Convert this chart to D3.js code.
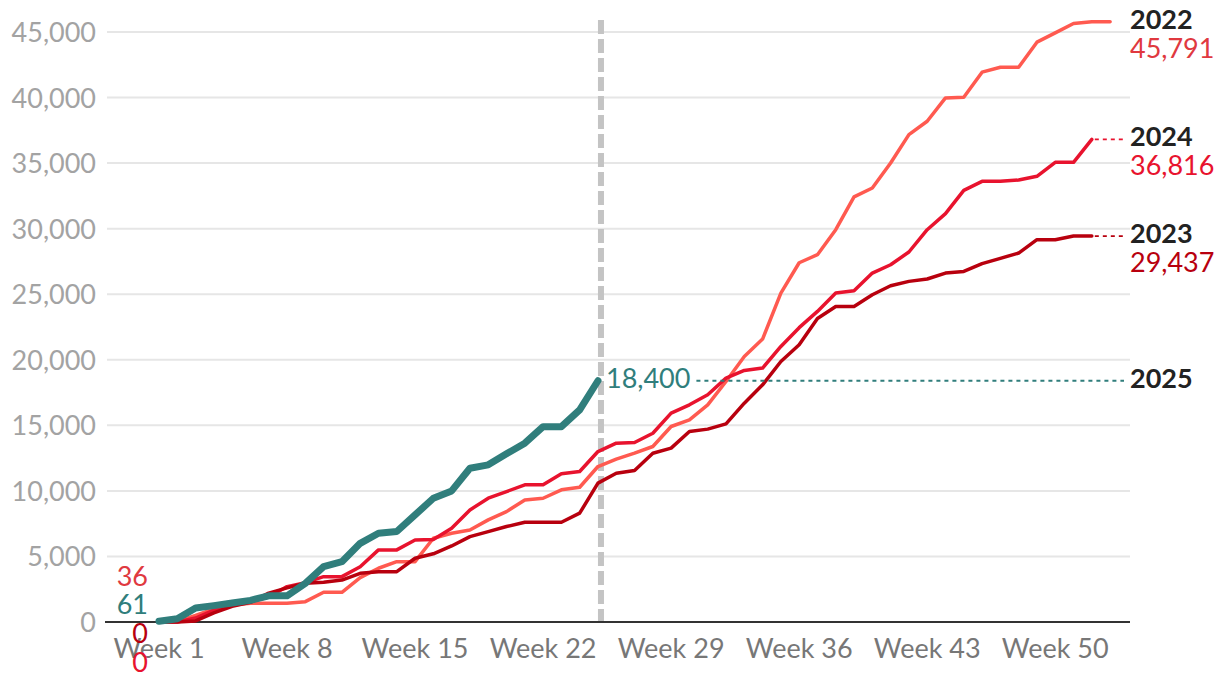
<!DOCTYPE html>
<html><head><meta charset="utf-8">
<script src="https://cdn.jsdelivr.net/npm/d3@7"></script>
<style>
html,body{margin:0;padding:0;background:#fff;}
svg{display:block;font-family:Lato,"Open Sans",sans-serif;}
</style></head>
<body><svg id="c" width="1220" height="674"></svg>
<script>
const yTicks = [0,5000,10000,15000,20000,25000,30000,35000,40000,45000];
const xTickWeeks = [1,8,15,22,29,36,43,50];
const xTickLabels = ["Week 1","Week 8","Week 15","Week 22","Week 29","Week 36","Week 43","Week 50"];

const v2022 = [36,50,500,1000,1300,1425,1425,1425,1550,2265,2265,3385,4100,4600,4600,6390,6770,7020,7790,8420,9310,9440,10080,10280,11860,12420,12875,13385,14910,15420,16565,18345,20250,21580,25090,27400,28015,29920,32420,33100,35010,37175,38190,39975,40025,41935,42315,42315,44225,44935,45650,45780,45791];
const v2023 = [0,0,80,690,1200,1500,2200,2600,2950,3030,3200,3715,3840,3840,4860,5200,5800,6515,6895,7280,7610,7610,7610,8300,10590,11350,11550,12875,13260,14530,14710,15115,16690,18090,19870,21145,23150,24070,24070,24960,25650,25980,26160,26615,26740,27330,27735,28140,29160,29160,29437,29437];
const v2024 = [0,0,300,900,1300,1550,1900,2700,3000,3460,3460,4220,5500,5500,6260,6300,7150,8550,9440,9950,10460,10460,11300,11475,13000,13640,13690,14400,15930,16565,17330,18600,19185,19365,21020,22450,23690,25090,25270,26615,27250,28220,29920,31145,32925,33610,33610,33715,33995,35060,35060,36816];
const v2025 = [61,250,1070,1250,1450,1650,2000,2000,2950,4220,4600,6000,6770,6900,8170,9440,10000,11730,11985,12824,13640,14900,14900,16180,18400];

const years = ["2022","2023","2024","2025"];
const seriesValues = [v2022, v2023, v2024, v2025];
const lineColors = {"2022":"#ff5a50","2023":"#b8000e","2024":"#e8132e","2025":"#307e7c"};
const textColors = {"2022":"#e0393f","2023":"#b8000e","2024":"#e8132e","2025":"#307e7c"};
const currentWeek = 25;

const svg = d3.select("#c");
const x = d3.scaleLinear().domain([1,53]).range([159,1110.1]);
const y = d3.scaleLinear().domain([0,45000]).range([622,32]);
const gridLeft = 107, gridRight = 1130;
const fs = 27;

// gridlines
svg.append("g").selectAll("line").data(yTicks.filter(d=>d>0)).join("line")
  .attr("x1",gridLeft).attr("x2",gridRight)
  .attr("y1",d=>y(d)).attr("y2",d=>y(d))
  .attr("stroke","#e6e6e6").attr("stroke-width",2);

// y tick labels
svg.append("g").selectAll("text").data(yTicks).join("text")
  .attr("x",96).attr("y",d=>y(d)+10)
  .attr("text-anchor","end").attr("font-size",fs).attr("fill","#a3a3a3")
  .text(d=>d3.format(",")(d));

// x tick labels
svg.append("g").selectAll("text").data(xTickWeeks).join("text")
  .attr("x",d=>x(d)).attr("y",658)
  .attr("text-anchor","middle").attr("font-size",fs).attr("fill","#777")
  .text((d,i)=>xTickLabels[i]);

// vertical dashed current week line
svg.append("line").attr("x1",x(currentWeek)+3).attr("x2",x(currentWeek)+3)
  .attr("y1",20).attr("y2",622)
  .attr("stroke","#c4c4c4").attr("stroke-width",6).attr("stroke-dasharray","14,5");

// baseline
svg.append("line").attr("x1",105).attr("x2",gridRight).attr("y1",y(0)).attr("y2",y(0))
  .attr("stroke","#333").attr("stroke-width",2);

const line = d3.line().x((d,i)=>x(i+1)).y(d=>y(d));

// lines (order: 2022, 2024, 2023, 2025 on top)
const drawOrder = ["2022","2024","2023","2025"];
drawOrder.forEach(yr=>{
  const vals = seriesValues[years.indexOf(yr)];
  svg.append("path").datum(vals).attr("d",line)
    .attr("fill","none").attr("stroke",lineColors[yr])
    .attr("stroke-width", yr==="2025"?7:3.5)
    .attr("stroke-linejoin","round").attr("stroke-linecap","round");
});

// end labels
const endX = 1130;
years.forEach(yr=>{
  const vals = seriesValues[years.indexOf(yr)];
  const last = vals[vals.length-1];
  const lx = x(vals.length);
  const ly = y(last);
  if (yr==="2025") {
    const lbl = svg.append("text").attr("x",lx+8).attr("y",ly+7)
      .attr("font-size",fs).attr("fill",textColors[yr]).text(d3.format(",")(last));
    const w = lbl.node().getComputedTextLength();
    svg.append("line").attr("x1",lx+8+w+6).attr("x2",1124).attr("y1",ly).attr("y2",ly)
      .attr("stroke",lineColors[yr]).attr("stroke-width",1.8).attr("stroke-dasharray","4,4");
    svg.append("text").attr("x",endX).attr("y",ly+7).attr("font-size",fs).attr("font-weight","bold")
      .attr("fill","#222").text(yr);
  } else {
    if (lx < 1100) {
      svg.append("line").attr("x1",lx+3).attr("x2",1124).attr("y1",ly).attr("y2",ly)
        .attr("stroke",lineColors[yr]).attr("stroke-width",1.8).attr("stroke-dasharray","4,4");
    }
    svg.append("text").attr("x",endX).attr("y",ly+7).attr("font-size",fs).attr("font-weight","bold")
      .attr("fill","#222").text(yr);
    svg.append("text").attr("x",endX).attr("y",ly+36).attr("font-size",fs)
      .attr("fill",textColors[yr]).text(d3.format(",")(last));
  }
});

// start labels
const startOrder = ["2022","2025","2023","2024"];
const startBase = [586,614,643,672];
startOrder.forEach((yr,i)=>{
  const vals = seriesValues[years.indexOf(yr)];
  svg.append("text").attr("x",148).attr("y",startBase[i]).attr("text-anchor","end")
    .attr("font-size",fs).attr("fill",textColors[yr]).text(d3.format(",")(vals[0]));
});
</script>
</body></html>
